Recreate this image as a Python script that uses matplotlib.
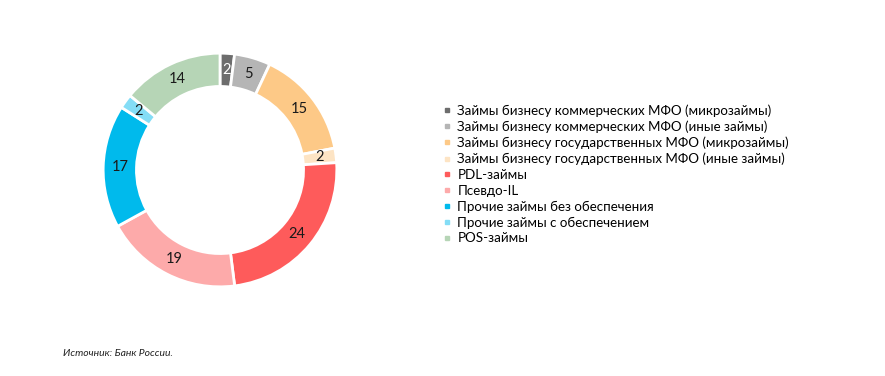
import numpy as np
import matplotlib.pyplot as plt
from matplotlib.lines import Line2D

plt.rcParams['font.family'] = ['Lato', 'DejaVu Sans']

labels = [
    'Займы бизнесу коммерческих МФО (микрозаймы)',
    'Займы бизнесу коммерческих МФО (иные займы)',
    'Займы бизнесу государственных МФО (микрозаймы)',
    'Займы бизнесу государственных МФО (иные займы)',
    'PDL-займы',
    'Псевдо-IL',
    'Прочие займы без обеспечения',
    'Прочие займы с обеспечением',
    'POS-займы',
]
values = [2, 5, 15, 2, 24, 19, 17, 2, 14]
colors = ['#6d6d6d', '#b5b5b5', '#fdc987', '#fde4c4', '#fe5b5b',
          '#fdaaaa', '#00baec', '#84ddf6', '#b6d5b6']
label_colors = ['white'] + ['#1a1a1a'] * 8

fig = plt.figure(figsize=(8.85, 3.76), dpi=100)
r_px = 118
ax = fig.add_axes([(220 - r_px) / 885, (376 - 170 - r_px) / 376,
                   2 * r_px / 885, 2 * r_px / 376])

ring = 0.285
wedges, texts = ax.pie(values, colors=colors, startangle=90, counterclock=False,
                       radius=1.0,
                       wedgeprops=dict(width=ring, edgecolor='white', linewidth=2))
ax.set_xlim(-1.01, 1.01)
ax.set_ylim(-1.01, 1.01)
ax.set_aspect('equal')

# value labels in the middle of the ring
total = sum(values)
ang = 90.0
for v, tc in zip(values, label_colors):
    mid = ang - v / total * 360 / 2
    ang -= v / total * 360
    r = 1 - ring / 2
    ax.text(r * np.cos(np.radians(mid)), r * np.sin(np.radians(mid)), str(v),
            ha='center', va='center', fontsize=10.5, color=tc)

handles = [Line2D([], [], marker='s', linestyle='none', markersize=3.5,
                  markerfacecolor=c, markeredgecolor=c) for c in colors]
fig.legend(handles, labels, loc='upper left', bbox_to_anchor=(444 / 885, 1 - 104 / 376),
           frameon=False, fontsize=9.6, handlelength=0.5, handletextpad=0.5,
           labelspacing=0.28, borderaxespad=0, borderpad=0)

fig.text(63 / 885, 1 - 354 / 376, 'Источник: Банк России.', fontsize=7.5,
         style='italic', va='center', ha='left', color='#222222')

fig.savefig('out.png', dpi=100)
